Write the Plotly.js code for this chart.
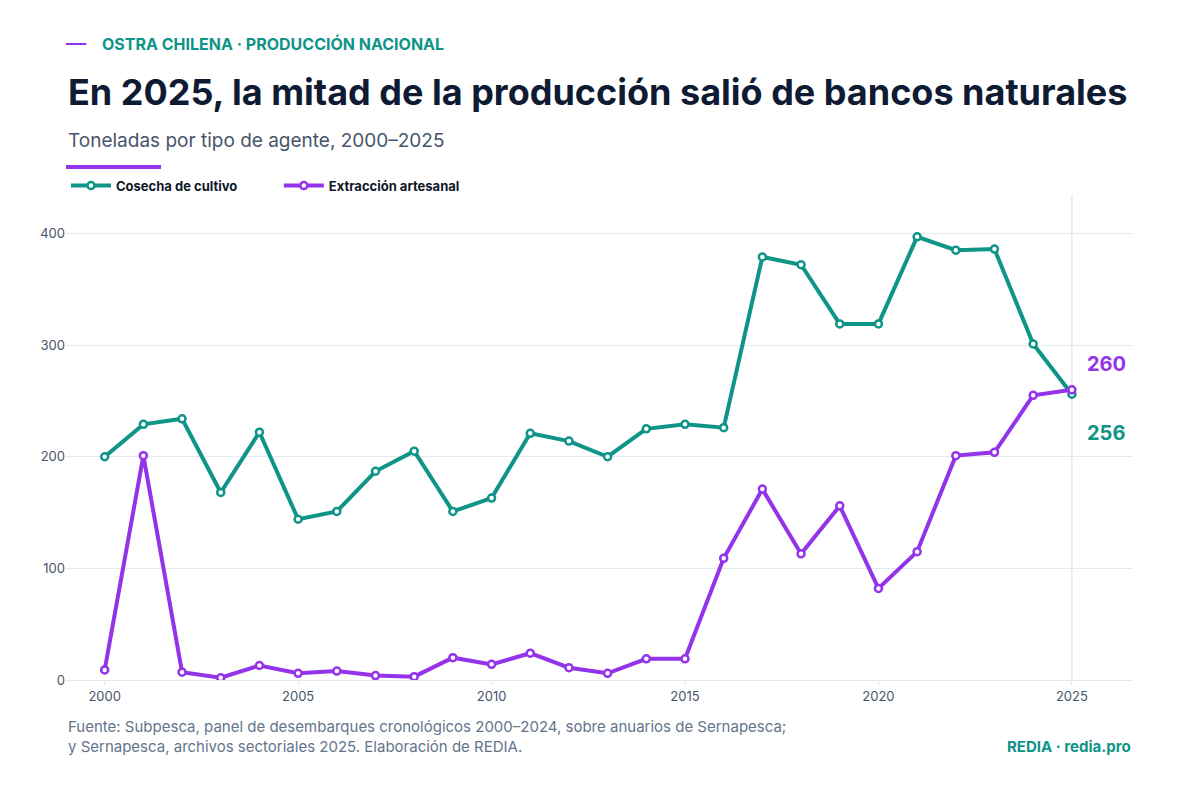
<!DOCTYPE html>
<html>
<head>
<meta charset="utf-8">
<script src="https://cdn.plot.ly/plotly-3.0.1.min.js"></script>
<style>body{margin:0;background:#fff}#chart{width:1200px;height:800px}</style>
</head>
<body>
<div id="chart"></div>
<script>
var years = [2000,2001,2002,2003,2004,2005,2006,2007,2008,2009,2010,2011,2012,2013,2014,2015,2016,2017,2018,2019,2020,2021,2022,2023,2024,2025];
var cultivo = [200,229,234,168,222,144,151,187,205,151,163,221,214,200,225,229,226,379,372,319,319,397,385,386,301,256];
var artesanal = [9,201,7,2,13,6,8,4,3,20,14,24,11,6,19,19,109,171,113,156,82,115,201,204,255,260];

var teal = '#0f9488';
var purple = '#9333ea';

function serie(name, y, color) {
  return {
    x: years, y: y, name: name, type: 'scatter', mode: 'lines+markers',
    line: {color: color, width: 4},
    marker: {size: 7, color: '#fff', line: {color: color, width: 2.5}}
  };
}

var layout = {
  width: 1200, height: 800,
  paper_bgcolor: '#fff', plot_bgcolor: '#fff',
  font: {family: 'Inter', color: '#475569'},
  margin: {l: 66, r: 67, t: 200, b: 120},
  showlegend: true,
  legend: {orientation: 'h', x: 0, y: 1.03, xanchor: 'left', yanchor: 'middle', bgcolor: 'rgba(0,0,0,0)',
    font: {size: 13, color: '#0f172a', family: 'Inter'}, itemwidth: 40},
  xaxis: {range: [1999, 2026.58], tickvals: [2000,2005,2010,2015,2020,2025],
    showgrid: false, zeroline: false, showline: true, linecolor: '#e2e8f0',
    ticks: 'outside', ticklen: 4, tickcolor: '#e2e8f0', tickfont: {size: 13, color: '#475569'}},
  yaxis: {range: [0, 430], tickvals: [0,100,200,300,400], gridcolor: '#e5e9f0',
    zeroline: false, showline: false, tickfont: {size: 13, color: '#475569'}},
  shapes: [
    {type: 'line', xref: 'x', yref: 'paper', x0: 2025, x1: 2025, y0: 0, y1: 1.01,
      line: {color: '#e2e8f0', width: 1.5}, layer: 'below'},
    {type: 'line', xref: 'paper', yref: 'paper', x0: 0, x1: 0.089, y0: 1.069, y1: 1.069,
      line: {color: purple, width: 4}},
    {type: 'line', xref: 'paper', yref: 'paper', x0: 0, x1: 0.019, y0: 1.325, y1: 1.325,
      line: {color: purple, width: 2}}
  ],
  annotations: [
    {xref: 'paper', yref: 'paper', x: 0.032, y: 1.325, xanchor: 'left', yanchor: 'middle',
      text: '<b>OSTRA CHILENA · PRODUCCIÓN NACIONAL</b>', showarrow: false,
      font: {size: 16, color: teal, family: 'Inter'}},
    {xref: 'paper', yref: 'paper', x: 0, y: 1.225, xanchor: 'left', yanchor: 'middle',
      text: '<b>En 2025, la mitad de la producción salió de bancos naturales</b>', showarrow: false,
      font: {size: 36, color: '#0f1b33', family: 'Inter'}},
    {xref: 'paper', yref: 'paper', x: 0, y: 1.125, xanchor: 'left', yanchor: 'middle',
      text: 'Toneladas por tipo de agente, 2000–2025', showarrow: false,
      font: {size: 19, color: '#475569', family: 'Inter'}},
    {xref: 'x', yref: 'y', x: 2025.35, y: 283, xanchor: 'left', text: '<b>260</b>', showarrow: false,
      font: {size: 20, color: purple, family: 'Inter'}},
    {xref: 'x', yref: 'y', x: 2025.35, y: 221, xanchor: 'left', text: '<b>256</b>', showarrow: false,
      font: {size: 20, color: teal, family: 'Inter'}},
    {xref: 'paper', yref: 'paper', x: 0, y: -0.072, xanchor: 'left', yanchor: 'top', align: 'left',
      text: 'Fuente: Subpesca, panel de desembarques cronológicos 2000–2024, sobre anuarios de Sernapesca;<br>y Sernapesca, archivos sectoriales 2025. Elaboración de REDIA.',
      showarrow: false, font: {size: 15, color: '#64748b', family: 'Inter'}},
    {xref: 'paper', yref: 'paper', x: 1, y: -0.115, xanchor: 'right', yanchor: 'top',
      text: '<b>REDIA · redia.pro</b>', showarrow: false,
      font: {size: 15, color: teal, family: 'Inter'}}
  ]
};

Plotly.newPlot('chart', [serie('<b>Cosecha de cultivo</b>          ', cultivo, teal), serie('<b>Extracción artesanal</b>', artesanal, purple)], layout, {displayModeBar: false});
</script>
</body>
</html>
